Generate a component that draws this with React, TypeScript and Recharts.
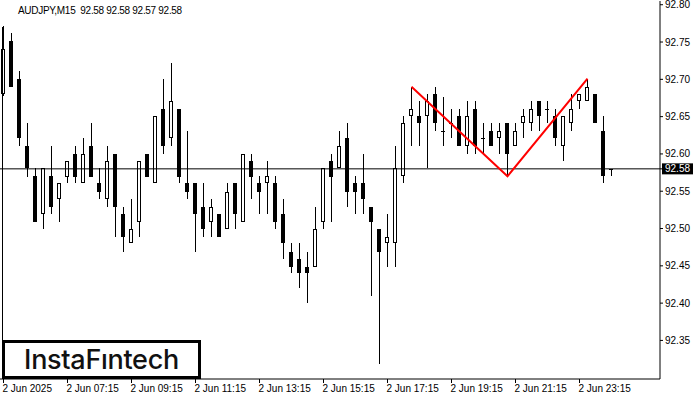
import React from 'react';
import { ComposedChart, Bar, Line, XAxis, YAxis, ReferenceLine } from 'recharts';

const opens = [
  92.681, 92.751, 92.701, 92.611, 92.570, 92.519, 92.570, 92.540, 92.569, 92.600,
  92.561, 92.611, 92.561, 92.540, 92.600, 92.519, 92.480, 92.509, 92.600, 92.561,
  92.660, 92.621, 92.660, 92.561, 92.561, 92.529, 92.509, 92.519, 92.500, 92.561,
  92.509, 92.590, 92.561, 92.561, 92.561, 92.519, 92.469, 92.459, 92.449, 92.449,
  92.509, 92.590, 92.581, 92.621, 92.561, 92.561, 92.529, 92.500, 92.480, 92.480,
  92.570, 92.651, 92.651, 92.651, 92.681, 92.631, 92.641, 92.651, 92.610, 92.660,
  92.621, 92.631, 92.621, 92.641, 92.610, 92.641, 92.641, 92.671, 92.660, 92.651,
  92.610, 92.641, 92.671, 92.671, 92.681, 92.631, 92.580,
];
const highs = [
  92.771, 92.762, 92.711, 92.641, 92.581, 92.581, 92.611, 92.561, 92.590, 92.611,
  92.621, 92.641, 92.581, 92.611, 92.600, 92.529, 92.540, 92.590, 92.600, 92.651,
  92.701, 92.722, 92.660, 92.631, 92.561, 92.561, 92.540, 92.519, 92.561, 92.561,
  92.600, 92.600, 92.570, 92.590, 92.570, 92.540, 92.480, 92.480, 92.469, 92.529,
  92.581, 92.600, 92.631, 92.641, 92.570, 92.600, 92.529, 92.500, 92.519, 92.611,
  92.651, 92.690, 92.671, 92.681, 92.690, 92.676, 92.660, 92.660, 92.671, 92.671,
  92.641, 92.641, 92.641, 92.641, 92.641, 92.660, 92.671, 92.671, 92.671, 92.660,
  92.651, 92.681, 92.681, 92.701, 92.681, 92.651, 92.580,
];
const lows = [
  92.677, 92.690, 92.610, 92.569, 92.509, 92.500, 92.519, 92.509, 92.561, 92.561,
  92.561, 92.569, 92.540, 92.529, 92.489, 92.469, 92.480, 92.489, 92.569, 92.561,
  92.600, 92.610, 92.561, 92.540, 92.469, 92.489, 92.489, 92.489, 92.500, 92.500,
  92.509, 92.540, 92.519, 92.519, 92.500, 92.459, 92.440, 92.420, 92.400, 92.449,
  92.500, 92.509, 92.581, 92.529, 92.519, 92.519, 92.409, 92.318, 92.449, 92.449,
  92.561, 92.611, 92.611, 92.581, 92.631, 92.611, 92.621, 92.610, 92.600, 92.600,
  92.600, 92.610, 92.600, 92.570, 92.610, 92.621, 92.631, 92.631, 92.641, 92.610,
  92.590, 92.631, 92.660, 92.671, 92.641, 92.561, 92.570,
];
const closes = [
  92.740, 92.690, 92.621, 92.581, 92.509, 92.581, 92.529, 92.561, 92.590, 92.569,
  92.600, 92.569, 92.549, 92.590, 92.529, 92.489, 92.500, 92.590, 92.569, 92.651,
  92.610, 92.671, 92.569, 92.549, 92.519, 92.500, 92.529, 92.489, 92.549, 92.519,
  92.600, 92.569, 92.549, 92.570, 92.509, 92.480, 92.449, 92.440, 92.440, 92.500,
  92.581, 92.569, 92.611, 92.549, 92.549, 92.540, 92.509, 92.469, 92.489, 92.581,
  92.641, 92.660, 92.641, 92.671, 92.641, 92.631, 92.641, 92.610, 92.651, 92.610,
  92.621, 92.610, 92.631, 92.600, 92.631, 92.651, 92.660, 92.651, 92.660, 92.621,
  92.651, 92.660, 92.681, 92.690, 92.641, 92.570, 92.580,
];

const patternIndex = [51, 63, 73];
const patternPrice = [92.690, 92.570, 92.701];

const timeTickIndex = [0, 8, 16, 24, 32, 40, 48, 56, 64, 72];
const timeTickLabels = [
  '2 Jun 2025', '2 Jun 07:15', '2 Jun 09:15', '2 Jun 11:15', '2 Jun 13:15',
  '2 Jun 15:15', '2 Jun 17:15', '2 Jun 19:15', '2 Jun 21:15', '2 Jun 23:15',
];
const priceTicks = [92.35, 92.4, 92.45, 92.5, 92.55, 92.6, 92.65, 92.7, 92.75, 92.8];
const currentPrice = 92.58;
const titleText = 'AUDJPY,M15  92.58 92.58 92.57 92.58';
const logoText = 'InstaF\u0131ntech';

const data = opens.map((o, i) => {
  const pi = patternIndex.indexOf(i);
  return {
    i,
    open: o,
    high: highs[i],
    low: lows[i],
    close: closes[i],
    pattern: pi >= 0 ? patternPrice[pi] : null,
  };
});

const FONT = '"Liberation Sans", Arial, sans-serif';

const Candle = (props: any) => {
  const { x, y, width, height, payload } = props;
  if (!payload) return null;
  const { open, close, high, low } = payload;
  const cx = x + width / 2;
  const k = high === low ? 0 : height / (high - low);
  const py = (p: number) => y + (high - p) * k;
  const wTop = Math.round(py(high));
  const wBot = Math.round(py(low));
  const top = Math.round(py(Math.max(open, close)));
  const bot = Math.round(py(Math.min(open, close)));
  const bull = close > open;
  const left = cx - 2.5;
  return (
    <g>
      <line x1={cx} x2={cx} y1={wTop} y2={Math.max(wBot, wTop + 1)} stroke="#000" strokeWidth={1} />
      {bot - top < 1 ? (
        <line x1={left} x2={left + 4} y1={top + 0.5} y2={top + 0.5} stroke="#000" strokeWidth={1} />
      ) : bull ? (
        <rect x={left + 0.5} y={top + 0.5} width={3} height={Math.max(bot - top - 1, 0)} fill="#fff" stroke="#000" strokeWidth={1} />
      ) : (
        <rect x={left} y={top} width={4} height={bot - top} fill="#000" />
      )}
    </g>
  );
};

const TimeTick = (props: any) => {
  const { x, y, payload } = props;
  const idx = timeTickIndex.indexOf(payload.value);
  return (
    <text x={x - 1} y={y} dy={9} textAnchor="start" fontSize={10} fontFamily={FONT} fill="#000">
      {idx >= 0 ? timeTickLabels[idx] : ''}
    </text>
  );
};

const PriceTick = (props: any) => {
  const { x, y, payload } = props;
  const v = payload.value;
  if (Math.abs(v - currentPrice) < 1e-9) {
    return (
      <g>
        <rect x={x - 3} y={y - 5.5} width={31} height={11} fill="#000" />
        <text x={x} y={y} dy="0.35em" textAnchor="start" fontSize={10} fontFamily={FONT} fill="#fff">
          {v.toFixed(2)}
        </text>
      </g>
    );
  }
  return (
    <text x={x} y={y} dy="0.35em" textAnchor="start" fontSize={10} fontFamily={FONT} fill="#000">
      {v.toFixed(2)}
    </text>
  );
};

const xDomain: [number, number] = [-0.4375, 82.0625];
const yDomain: [number, number] = [92.2983, 92.805];

export default function App() {
  return (
    <div style={{ position: 'absolute', left: 0, top: 0, width: 700, height: 400, background: '#fff' }}>
      <ComposedChart width={700} height={400} data={data} margin={{ top: 1, right: 0, bottom: 0, left: 0 }}>
        <XAxis
          dataKey="i"
          type="number"
          domain={xDomain}
          allowDataOverflow
          ticks={timeTickIndex}
          interval={0}
          tick={<TimeTick />}
          tickSize={4}
          tickMargin={0}
          tickLine={{ stroke: '#000' }}
          axisLine={{ stroke: '#000' }}
          height={21}
        />
        <XAxis
          xAxisId="top"
          orientation="top"
          dataKey="i"
          type="number"
          domain={xDomain}
          allowDataOverflow
          height={0}
          tick={false}
          tickLine={false}
          axisLine={{ stroke: '#000' }}
        />
        <YAxis
          orientation="right"
          domain={yDomain}
          allowDataOverflow
          ticks={[...priceTicks, currentPrice]}
          interval={0}
          tick={<PriceTick />}
          tickSize={3}
          tickMargin={2}
          tickLine={{ stroke: '#000' }}
          axisLine={{ stroke: '#000' }}
          width={40}
        />
        <ReferenceLine y={currentPrice} stroke="#000" strokeWidth={1} />
        <Bar
          dataKey={(d: any) => [d.low, d.high]}
          shape={<Candle />}
          barSize={4}
          isAnimationActive={false}
        />
        <Line
          dataKey="pattern"
          connectNulls
          stroke="#ff0000"
          strokeWidth={2}
          dot={false}
          activeDot={false}
          isAnimationActive={false}
        />
      </ComposedChart>
      <div style={{ position: 'absolute', left: 2, top: 27, width: 1, height: 352, background: '#000' }} />
      <div
        style={{
          position: 'absolute', left: 18, top: 5, fontSize: 10, lineHeight: '12px',
          fontFamily: FONT, color: '#000', whiteSpace: 'pre', letterSpacing: -0.3,
        }}
      >
        {titleText}
      </div>
      <div
        style={{
          position: 'absolute', left: 2, top: 340, width: 199, height: 39, boxSizing: 'border-box',
          border: '3px solid #000', background: '#fff', display: 'flex', alignItems: 'center',
          justifyContent: 'center', fontFamily: 'Inter, "Open Sans", sans-serif', fontWeight: 500,
          fontSize: 27, color: '#111', letterSpacing: -0.3,
        }}
      >
        {logoText}
      </div>
    </div>
  );
}
